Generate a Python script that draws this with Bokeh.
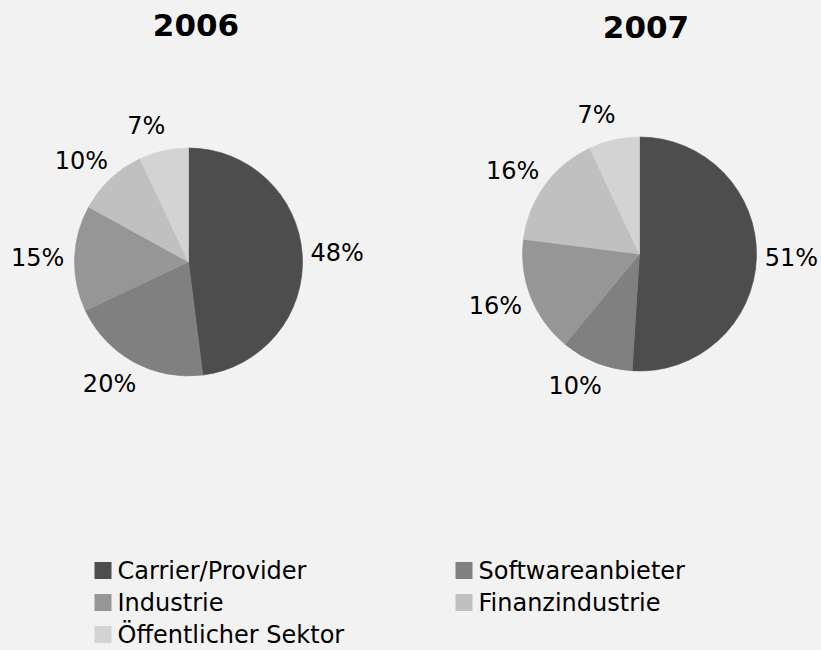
import math
from bokeh.plotting import figure
from bokeh.models import ColumnDataSource, Range1d
from bokeh.core.properties import value
from bokeh.embed import file_html
from bokeh.resources import INLINE

# ---------------- data ----------------
categories = ["Carrier/Provider", "Softwareanbieter", "Industrie",
              "Finanzindustrie", "Öffentlicher Sektor"]
years = ["2006", "2007"]
values_2006 = [48, 20, 15, 10, 7]
values_2007 = [51, 10, 16, 16, 7]
colors = ["#4d4d4d", "#808080", "#969696", "#c0c0c0", "#d3d3d3"]

# ---------------- layout ----------------
BG = "#f2f2f2"
W, H = 821, 650
FONT = "DejaVu Sans"


def px(x):
    return x


def py(y):
    return H - y


p = figure(width=W, height=H, x_range=Range1d(0, W), y_range=Range1d(0, H),
           output_backend="svg", toolbar_location=None,
           x_axis_location=None, y_axis_location=None, min_border=0,
           background_fill_color=BG, border_fill_color=BG,
           outline_line_color=None)
p.grid.visible = False

pies = [
    (values_2006, years[0], 188, 261.5, 114, 195.5, 24),
    (values_2007, years[1], 639, 253.5, 117, 645.5, 26.5),
]

for vals, year, cxp, cyp, r, tx, ty in pies:
    cx, cy = px(cxp), py(cyp)
    total = float(sum(vals))
    starts, ends, lx, ly, texts = [], [], [], [], []
    cum = 0.0
    for v in vals:
        a = cum / total
        b = (cum + v) / total
        starts.append(math.pi / 2 - 2 * math.pi * b)
        ends.append(math.pi / 2 - 2 * math.pi * a)
        mid = math.pi / 2 - 2 * math.pi * (a + b) / 2
        R = r + 25
        c = math.cos(mid)
        lx.append(cx + R * c + (10 if c > 0 else -12))
        ly.append(cy + R * math.sin(mid))
        texts.append(f"{round(100 * v / total)}%")
        cum += v
    src = ColumnDataSource(dict(start=starts, end=ends, color=colors,
                                lx=lx, ly=ly, t=texts))
    p.wedge(x=cx, y=cy, radius=r, start_angle="start", end_angle="end",
            fill_color="color", line_color="color", line_width=0.6,
            source=src)
    p.text(x="lx", y="ly", text="t", source=src, text_align="center",
           text_baseline="middle", text_font=value(FONT),
           text_font_size="24px", text_color="#000000")
    p.text(x=[px(tx)], y=[py(ty)], text=[year], text_align="center",
           text_baseline="middle", text_font=value(FONT),
           text_font_style="bold", text_font_size="31px",
           text_color="#000000")

# ---------------- legend ----------------
sq_x = [102.5, 463.5]
txt_x = [117, 478]
row_y0, row_dy = 570, 32
lg_sx, lg_sy, lg_tx, lg_ty = [], [], [], []
for i, c in enumerate(categories):
    col, row = i % 2, i // 2
    yy = py(row_y0 + row * row_dy)
    lg_sx.append(px(sq_x[col]))
    lg_sy.append(yy)
    lg_tx.append(px(txt_x[col]))
    lg_ty.append(yy)
lsrc = ColumnDataSource(dict(sx=lg_sx, sy=lg_sy, tx=lg_tx, ty=lg_ty,
                             color=colors, label=categories))
p.rect(x="sx", y="sy", width=17, height=17, fill_color="color",
       line_color=None, source=lsrc)
p.text(x="tx", y="ty", text="label", source=lsrc, text_align="left",
       text_baseline="middle", text_font=value(FONT),
       text_font_size="24px", text_color="#000000")

html = file_html(p, INLINE)
i = html.rfind("<body")
if i >= 0:
    j = html.find(">", i)
    html = html[:j] + ' style="background-color:#f2f2f2;"' + html[j:]
open("out.html", "w").write(html)
